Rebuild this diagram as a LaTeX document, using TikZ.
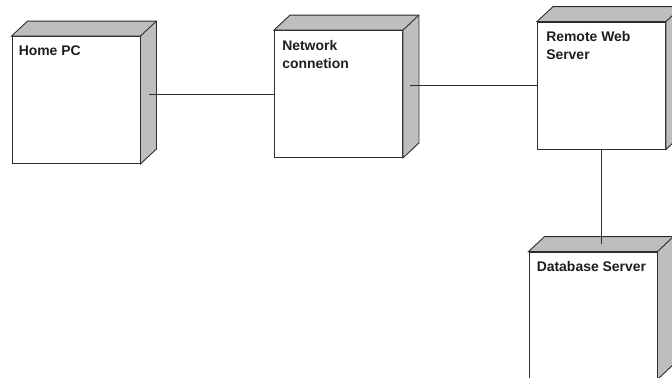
\documentclass[tikz,border=0pt]{standalone}
\usepackage{fontspec}
\setmainfont{Liberation Sans}
\usetikzlibrary{calc}
\definecolor{EdgeGray}{RGB}{45,45,45}
\definecolor{FaceGray}{RGB}{190,190,190}
\definecolor{TextInk}{RGB}{30,30,30}
\tikzset{
  device/.style={draw=EdgeGray, fill=white, line width=0.9pt, minimum width=128bp, minimum height=127bp, inner sep=0pt},
  devlabel/.style={anchor=north west, inner sep=0pt, align=left, text=TextInk, font=\bfseries\fontsize{14}{18}\selectfont},
  side/.style={draw=EdgeGray, fill=FaceGray, line width=0.9pt},
  wire/.style={draw=EdgeGray, line width=0.9pt}
}

\begin{document}
\begin{tikzpicture}[x=1bp,y=-1bp]
\useasboundingbox (0,0) rectangle (672,377);

\node[device] (home) at (76,100) {};

\node[device] (net) at (338.5,94) {};

\node[device] (web) at (601.5,85.5) {};

\node[device] (db) at (593,315.5) {};

\foreach \n in {home,net,web,db} {
  \filldraw[side] (\n.north west) -- ++(16,-15) -- ([shift={(16,-15)}]\n.north east) -- ([shift={(16,-15)}]\n.south east) -- (\n.south east) -- (\n.north east) -- cycle;
  \draw[side, fill=none] (\n.north east) -- ++(16,-15);
}

\node[devlabel] (homename) at ([shift={(7,10)}]home.north west) {Home PC};
\node[devlabel] (netname) at ([shift={(8,10)}]net.north west) {Network\\connetion};
\node[devlabel] (webname) at ([shift={(9,10)}]web.north west) {Remote Web\\Server};
\node[devlabel] (dbname) at ([shift={(8,10)}]db.north west) {Database Server};

\coordinate (homeport) at ($(home.east |- net.west)+(9,0)$);
\coordinate (netport) at ($(net.east |- web.west)+(7,0)$);
\coordinate (dbtop) at ($(db.north)+(0,-8)$);

\draw[wire] (homeport) to (net.west);
\draw[wire] (netport) to (web.west);
\draw[wire] (web.south) to (web.south |- dbtop);

\end{tikzpicture}
\end{document}
